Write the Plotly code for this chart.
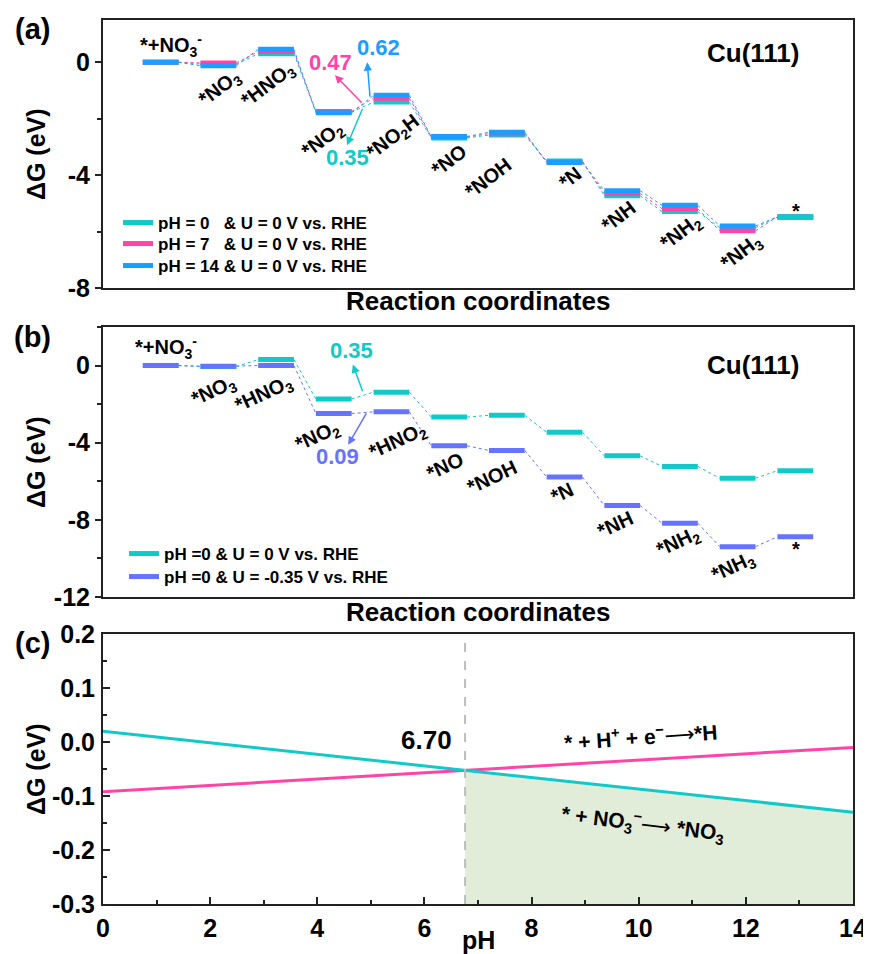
import plotly.graph_objects as go

# ---------------- data ----------------
steps_a = ["*+NO<sub>3</sub><sup>-</sup>", "*NO<sub>3</sub>", "*HNO<sub>3</sub>", "*NO<sub>2</sub>",
           "*NO<sub>2</sub>H", "*NO", "*NOH", "*N", "*NH", "*NH<sub>2</sub>", "*NH<sub>3</sub>", "*"]
steps_b = ["*+NO<sub>3</sub><sup>-</sup>", "*NO<sub>3</sub>", "*HNO<sub>3</sub>", "*NO<sub>2</sub>",
           "*HNO<sub>2</sub>", "*NO", "*NOH", "*N", "*NH", "*NH<sub>2</sub>", "*NH<sub>3</sub>", "*"]

a_ph0 = [0, -0.06, 0.30, -1.76, -1.41, -2.68, -2.58, -3.50, -4.73, -5.29, -5.86, -5.48]
a_ph7 = [0, -0.02, 0.38, -1.74, -1.27, -2.65, -2.53, -3.53, -4.65, -5.19, -5.97, -5.48]
a_ph14 = [0, -0.12, 0.46, -1.79, -1.17, -2.63, -2.48, -3.55, -4.55, -5.07, -5.80, -5.48]
a_names = ["pH = 0   & U = 0 V vs. RHE", "pH = 7   & U = 0 V vs. RHE", "pH = 14 & U = 0 V vs. RHE"]
a_barriers = ["0.35", "0.47", "0.62"]

b_u0 = [0, -0.05, 0.31, -1.73, -1.38, -2.67, -2.58, -3.46, -4.68, -5.23, -5.84, -5.45]
b_u035 = [0, -0.03, 0.0, -2.49, -2.40, -4.16, -4.40, -5.78, -7.26, -8.17, -9.39, -8.88]
b_names = ["pH =0 & U = 0 V vs. RHE", "pH =0 & U = -0.35 V vs. RHE"]
b_barriers = ["0.35", "0.09"]

c_ph = [0, 14]
c_no3 = [0.02, -0.13]
c_h = [-0.092, -0.01]
c_cross_label = "6.70"

tick_a = [0, -4, -8]
tick_b = [0, -4, -8, -12]
tick_c_y = [0.2, 0.1, 0.0, -0.1, -0.2, -0.3]
tick_c_x = [0, 2, 4, 6, 8, 10, 12, 14]

TEAL = "#10C9C9"
PINK = "#FF44A8"
BLUE = "#1A9EFF"
VIOL = "#6673FF"
FONT = "Arial, Liberation Sans, sans-serif"
OFF = 8                      # page body margin of the html page
W, H = 871 - OFF, 954 - OFF  # figure size that fits in the window


def PX(p):
    return (p - OFF) / W


def PY(p):
    return 1 - (p - OFF) / H


fig = go.Figure()

HALF = 0.31


def bars(vals):
    xs, ys = [], []
    for i, v in enumerate(vals):
        xs += [i + 1 - HALF, i + 1 + HALF, None]
        ys += [v, v, None]
    return xs, ys


def links(vals):
    xs, ys = [], []
    for i in range(len(vals) - 1):
        xs += [i + 1 + HALF, i + 2 - HALF, None]
        ys += [vals[i], vals[i + 1], None]
    return xs, ys


def add_series(vals, color, name, xa, ya, legend):
    lx, ly = links(vals)
    fig.add_trace(go.Scatter(x=lx, y=ly, mode="lines", line=dict(color=color, width=1, dash="dot"),
                             showlegend=False, xaxis=xa, yaxis=ya, hoverinfo="skip"))
    bx, by = bars(vals)
    fig.add_trace(go.Scatter(x=bx, y=by, mode="lines", line=dict(color=color, width=5),
                             name=name, xaxis=xa, yaxis=ya, legend=legend))


# panel (a)
a_legs = ["legend", "legend2", "legend3"]
for vals, col, nm, lg in zip([a_ph0, a_ph7, a_ph14], [TEAL, PINK, BLUE], a_names, a_legs):
    add_series(vals, col, nm, "x", "y", lg)
n = len(a_ph0)
fig.add_trace(go.Scatter(x=[n - HALF, n + HALF], y=[a_ph0[-1], a_ph0[-1]], mode="lines",
                         line=dict(color=TEAL, width=5), showlegend=False, xaxis="x", yaxis="y"))

# panel (b)
b_legs = ["legend4", "legend5"]
for vals, col, nm, lg in zip([b_u0, b_u035], [TEAL, VIOL], b_names, b_legs):
    add_series(vals, col, nm, "x2", "y2", lg)

# panel (c)
slope_n = (c_no3[1] - c_no3[0]) / (c_ph[1] - c_ph[0])
slope_h = (c_h[1] - c_h[0]) / (c_ph[1] - c_ph[0])
x_int = (c_h[0] - c_no3[0]) / (slope_n - slope_h)
y_int = c_no3[0] + slope_n * x_int
fig.add_trace(go.Scatter(x=[x_int, c_ph[1], c_ph[1], x_int], y=[y_int, c_no3[1], -0.3, -0.3],
                         fill="toself", fillcolor="#E2EDD9", line=dict(width=0), mode="lines",
                         showlegend=False, xaxis="x3", yaxis="y3"))
fig.add_trace(go.Scatter(x=c_ph, y=c_h, mode="lines", line=dict(color=PINK, width=3),
                         showlegend=False, xaxis="x3", yaxis="y3"))
fig.add_trace(go.Scatter(x=c_ph, y=c_no3, mode="lines", line=dict(color=TEAL, width=3),
                         showlegend=False, xaxis="x3", yaxis="y3"))
fig.add_shape(type="line", x0=x_int, x1=x_int, y0=-0.3, y1=0.2, xref="x3", yref="y3",
              line=dict(color="#BDBDBD", width=2, dash="dash"))

# ---------------- layout ----------------
XD = [PX(103), PX(853)]


def ydom(top, bot):
    return [PY(bot), PY(top)]


line_style = dict(showline=True, mirror=True, linecolor="#222222", linewidth=2,
                  showgrid=False, zeroline=False, automargin=False)
tfont = dict(family=FONT, size=25, color="black", weight="bold")


def leg(xp, yp):
    return dict(x=PX(xp), y=PY(yp), xanchor="left", yanchor="top", bgcolor="rgba(0,0,0,0)",
                font=dict(family=FONT, size=17, weight="bold"), tracegroupgap=0)


fig.update_layout(
    width=W, height=H, margin=dict(l=0, r=0, t=0, b=0, autoexpand=False),
    paper_bgcolor="white", plot_bgcolor="white",
    font=dict(family=FONT, color="black"),
    xaxis=dict(domain=XD, range=[0, 13], showticklabels=False, ticks="", anchor="y", **line_style),
    yaxis=dict(domain=ydom(20, 288), range=[-8, 1.5], tickmode="array", tickvals=tick_a,
               ticktext=[str(t) for t in tick_a], ticks="outside", ticklen=6, tickwidth=2,
               tickcolor="#222", minor=dict(tickmode="linear", tick0=0, dtick=2, ticklen=4,
                                            tickwidth=1.5, ticks="outside", tickcolor="#222"),
               tickfont=tfont, anchor="x", **line_style),
    xaxis2=dict(domain=XD, range=[0, 13], showticklabels=False, ticks="", anchor="y2", **line_style),
    yaxis2=dict(domain=ydom(327, 597), range=[-12, 2], tickmode="array", tickvals=tick_b,
                ticktext=[str(t) for t in tick_b], ticks="outside", ticklen=6, tickwidth=2,
                tickcolor="#222", minor=dict(tickmode="linear", tick0=0, dtick=2, ticklen=4,
                                             tickwidth=1.5, ticks="outside", tickcolor="#222"),
                tickfont=tfont, anchor="x2", **line_style),
    xaxis3=dict(domain=XD, range=[0, 14], tickmode="array", tickvals=tick_c_x,
                ticktext=[str(t) for t in tick_c_x], ticks="inside", ticklen=7, tickwidth=2,
                tickcolor="#222", minor=dict(tickmode="linear", tick0=0, dtick=1, ticklen=4,
                                             tickwidth=1.5, ticks="inside", tickcolor="#222"),
                tickfont=tfont, anchor="y3", ticklabelstandoff=1, **line_style),
    yaxis3=dict(domain=ydom(634, 904), range=[-0.3, 0.2], tickmode="array", tickvals=tick_c_y,
                ticktext=[f"{t:.1f}".replace("-0.0", "0.0") for t in tick_c_y], ticks="inside",
                ticklen=7, tickwidth=2, tickcolor="#222",
                minor=dict(tickmode="linear", tick0=0, dtick=0.05, ticklen=4, tickwidth=1.5,
                           ticks="inside", tickcolor="#222"),
                tickfont=tfont, anchor="x3", ticklabelstandoff=1, **line_style),
    legend=leg(118, 205), legend2=leg(118, 226), legend3=leg(118, 248),
    legend4=leg(124, 536), legend5=leg(124, 559),
)

ann = []


def txt(x, y, text, size=21, color="black", angle=0, xref="x", yref="y"):
    ann.append(dict(x=x, y=y, xref=xref, yref=yref, text=text, showarrow=False, textangle=angle,
                    font=dict(family=FONT, size=size, color=color, weight="bold"),
                    xanchor="center", yanchor="middle"))


def arrow(x, y, ax, ay, color, xref, yref):
    ann.append(dict(x=x, y=y, ax=ax, ay=ay, xref=xref, yref=yref, axref=xref, ayref=yref, text="",
                    showarrow=True, arrowhead=2, arrowsize=1.1, arrowwidth=1.5, arrowcolor=color))


# panel labels
for lbl, yc in [("(a)", 29), ("(b)", 337), ("(c)", 643)]:
    txt(PX(32), PY(yc), lbl, size=29, xref="paper", yref="paper")
# y titles
for yc in [154, 462, 769]:
    txt(PX(36), PY(yc), "ΔG (eV)", size=25, angle=-90, xref="paper", yref="paper")
# x titles
txt(PX(478), PY(301), "Reaction coordinates", size=26, xref="paper", yref="paper")
txt(PX(478), PY(612), "Reaction coordinates", size=26, xref="paper", yref="paper")
txt(PX(478), PY(940), "pH", size=25, xref="paper", yref="paper")

# panel (a) step labels
pos_a = [(1.18, 0.6), (2.03, -0.92), (2.86, -0.81), (3.81, -2.76), (5.03, -2.65), (6.0, -3.47),
         (6.67, -4.1), (8.09, -4.1), (8.94, -5.45), (10.03, -6.05), (11.07, -6.73), (12.01, -5.27)]
for i, (lbl, (px, py)) in enumerate(zip(steps_a, pos_a)):
    ang = 0 if i in (0, len(steps_a) - 1) else -37
    txt(px, py, lbl, size=20, angle=ang, xref="x", yref="y")
txt(11.27, 0.32, "Cu(111)", size=26, xref="x", yref="y")
txt(4.23, -3.38, a_barriers[0], size=22, color=TEAL, xref="x", yref="y")
txt(3.95, 0.0, a_barriers[1], size=22, color=PINK, xref="x", yref="y")
txt(4.78, 0.53, a_barriers[2], size=22, color=BLUE, xref="x", yref="y")
arrow(4.02, -0.46, 4.51, -1.49, PINK, "x", "y")
arrow(4.58, 0.0, 4.63, -1.27, BLUE, "x", "y")
arrow(4.23, -2.94, 4.51, -1.59, TEAL, "x", "y")

# panel (b) step labels
pos_b = [(1.09, 0.94), (1.92, -1.35), (2.79, -1.51), (3.73, -3.70), (5.11, -3.96), (5.93, -5.2),
         (6.74, -5.78), (7.95, -6.61), (8.89, -8.23), (9.97, -9.17), (10.92, -10.47), (12.01, -9.53)]
for i, (lbl, (px, py)) in enumerate(zip(steps_b, pos_b)):
    ang = 0 if i in (0, len(steps_b) - 1) else -25
    txt(px, py, lbl, size=20, angle=ang, xref="x2", yref="y2")
txt(11.27, 0.05, "Cu(111)", size=26, xref="x2", yref="y2")
txt(4.30, 0.78, b_barriers[0], size=22, color=TEAL, xref="x2", yref="y2")
txt(4.07, -4.69, b_barriers[1], size=22, color=VIOL, xref="x2", yref="y2")
arrow(4.33, 0.05, 4.51, -1.41, TEAL, "x2", "y2")
arrow(4.25, -4.11, 4.58, -2.40, VIOL, "x2", "y2")

# panel (c) labels
ARW = '<span style="font-weight:normal">⟶</span>'
txt(6.03, 0.004, c_cross_label, size=26, xref="x3", yref="y3")
txt(10.04, 0.011, "* + H<sup>+</sup> + e<sup>−</sup>" + ARW + "*H", size=21, angle=-4,
    xref="x3", yref="y3")
txt(10.08, -0.15, "* + NO<sub>3</sub><sup>−</sup>" + ARW + " *NO<sub>3</sub>", size=21, angle=7,
    xref="x3", yref="y3")

fig.update_layout(annotations=ann)
fig.write_html("out.html")
